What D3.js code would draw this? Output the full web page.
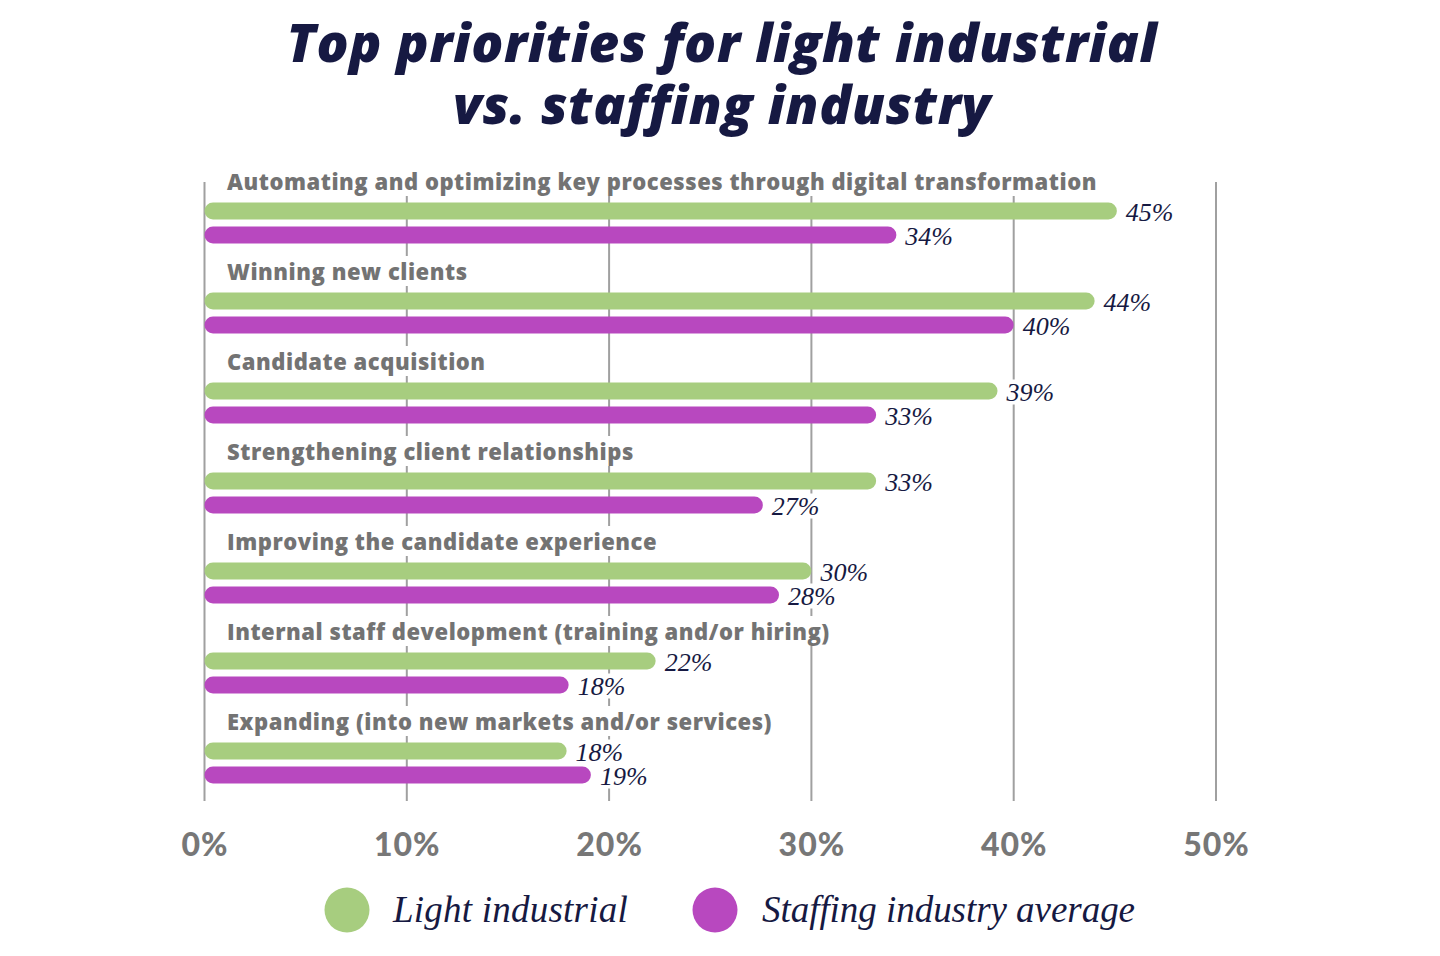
<!DOCTYPE html>
<html>
<head>
<meta charset="utf-8">
<script src="https://cdn.jsdelivr.net/npm/d3@7"></script>
<style>
  html, body { margin: 0; padding: 0; background: #ffffff; }
  svg { display: block; }
</style>
</head>
<body>
<svg id="chart" width="1440" height="956"></svg>
<script>
// ---------- DATA ----------
const titleLines = ["Top priorities for light industrial", "vs. staffing industry"];
const categories = [
  "Automating and optimizing key processes through digital transformation",
  "Winning new clients",
  "Candidate acquisition",
  "Strengthening client relationships",
  "Improving the candidate experience",
  "Internal staff development (training and/or hiring)",
  "Expanding (into new markets and/or services)"
];
// printed labels (%)
const lightIndustrial = [45, 44, 39, 33, 30, 22, 18];
const staffingAverage = [34, 40, 33, 27, 28, 18, 19];
// bar lengths as drawn in the picture (%)
const lightIndustrialBar = [45.1, 44.0, 39.2, 33.2, 30.0, 22.3, 17.9];
const staffingAverageBar = [34.2, 40.0, 33.2, 27.6, 28.4, 18.0, 19.1];
const seriesNames = ["Light industrial", "Staffing industry average"];
const tickValues = [0, 10, 20, 30, 40, 50];

// ---------- STYLE ----------
const colors = { green: "#a7cd7f", purple: "#b848bf", navy: "#161942", gray: "#737373", grid: "#a0a0a0" };

const svg = d3.select("#chart");

// Scales
const x = d3.scaleLinear().domain([0, 50]).range([204.5, 1216]);
const y = d3.scaleBand().domain(categories).range([166, 796]);
const sub = d3.scaleBand().domain(seriesNames).range([36.5, 77.5]).paddingInner(7 / 24).paddingOuter(0);

// helper: letter-spacing so a text reaches a target width
function spacingFor(node, target) {
  const w = node.getComputedTextLength();
  const n = node.textContent.length;
  return (target - w) / n;
}

// ---------- TITLE (one text element, two lines) ----------
const titleSpecs = [
  { text: titleLines[0], y: 62, w: 871 },
  { text: titleLines[1], y: 124, w: 538 }
];
const title = svg.append("text")
  .attr("text-anchor", "middle")
  .attr("font-family", "'Open Sans', Lato, sans-serif")
  .attr("font-weight", 800).attr("font-style", "italic")
  .attr("font-size", 53)
  .style("font-variant-ligatures", "none")
  .attr("fill", colors.navy);
title.selectAll("tspan").data(titleSpecs).join("tspan")
  .attr("x", 722).attr("y", d => d.y)
  .text(d => d.text)
  .each(function(d) {
    d3.select(this).attr("letter-spacing", spacingFor(this, d.w));
  });

// ---------- GRIDLINES ----------
svg.append("g").selectAll("line")
  .data(tickValues).join("line")
  .attr("x1", d => x(d)).attr("x2", d => x(d))
  .attr("y1", 182).attr("y2", 801)
  .attr("stroke", colors.grid).attr("stroke-width", 2);

// ---------- GROUPS ----------
const groups = svg.append("g").selectAll("g.grp")
  .data(categories.map((c, i) => ({
    cat: c,
    vals: [
      { label: lightIndustrial[i], len: lightIndustrialBar[i], j: 0 },
      { label: staffingAverage[i], len: staffingAverageBar[i], j: 1 }
    ]
  })))
  .join("g").attr("class", "grp")
  .attr("transform", d => `translate(0,${y(d.cat)})`);

// Category labels with white backgrounds
const catLabels = groups.append("text")
  .attr("class", "cat")
  .attr("x", 227).attr("y", 24)
  .attr("font-family", "'Open Sans', Lato, sans-serif")
  .attr("font-weight", 800)
  .attr("font-size", 22)
  .style("font-variant-ligatures", "none")
  .attr("fill", colors.gray)
  .text(d => d.cat);
const catLs = spacingFor(catLabels.nodes()[0], 870);
catLabels.attr("letter-spacing", catLs);
catLabels.each(function() {
  const bb = this.getBBox();
  d3.select(this.parentNode).insert("rect", "text.cat")
    .attr("x", bb.x - 3).attr("y", bb.y).attr("width", bb.width + 6).attr("height", bb.height)
    .attr("fill", "#fff");
});

const barH = sub.bandwidth();
const seriesColors = [colors.green, colors.purple];
const bars = groups.selectAll("g.bar")
  .data(d => d.vals)
  .join("g").attr("class", "bar")
  .attr("transform", d => `translate(0,${sub(seriesNames[d.j])})`);

bars.append("rect")
  .attr("x", x(0))
  .attr("y", 0)
  .attr("width", d => x(d.len) - x(0))
  .attr("height", barH)
  .attr("rx", barH / 2).attr("ry", barH / 2)
  .attr("fill", d => seriesColors[d.j]);

const valLabels = bars.append("text")
  .attr("x", d => x(d.len) + 9)
  .attr("y", barH / 2 + 9.5)
  .attr("font-family", "'Liberation Serif', 'Times New Roman', serif")
  .attr("font-style", "italic")
  .attr("font-size", 26)
  .attr("fill", colors.navy)
  .text(d => d.label + "%");
valLabels.each(function() {
  const bb = this.getBBox();
  d3.select(this.parentNode).insert("rect", "text")
    .attr("x", bb.x - 1).attr("y", bb.y + 2).attr("width", bb.width + 3).attr("height", bb.height - 4)
    .attr("fill", "#fff");
});

// ---------- AXIS ----------
const axis = d3.axisBottom(x).tickValues(tickValues).tickFormat(d => d + "%").tickSize(0).tickPadding(0);
const axG = svg.append("g").attr("transform", "translate(0,833)").call(axis);
axG.select(".domain").remove();
axG.selectAll("text")
  .attr("font-family", "Lato, 'Open Sans', sans-serif")
  .attr("font-weight", 900)
  .attr("font-size", 32)
  .attr("letter-spacing", 1)
  .attr("fill", "#777777");

// ---------- LEGEND ----------
const legend = svg.append("g");
const legItems = [
  { name: seriesNames[0], color: colors.green, cx: 347, tx: 393, w: 235 },
  { name: seriesNames[1], color: colors.purple, cx: 715, tx: 762, w: 373 }
];
legend.selectAll("ellipse").data(legItems).join("ellipse")
  .attr("cx", d => d.cx).attr("cy", 910).attr("rx", 22.5).attr("ry", 22.5)
  .attr("fill", d => d.color);
legend.selectAll("text").data(legItems).join("text")
  .attr("x", d => d.tx).attr("y", 922)
  .attr("font-family", "'Liberation Serif', 'Times New Roman', serif")
  .attr("font-style", "italic")
  .attr("font-size", 37)
  .attr("fill", colors.navy)
  .text(d => d.name)
  .each(function(d) {
    d3.select(this).attr("letter-spacing", spacingFor(this, d.w));
  });
</script>
</body>
</html>
